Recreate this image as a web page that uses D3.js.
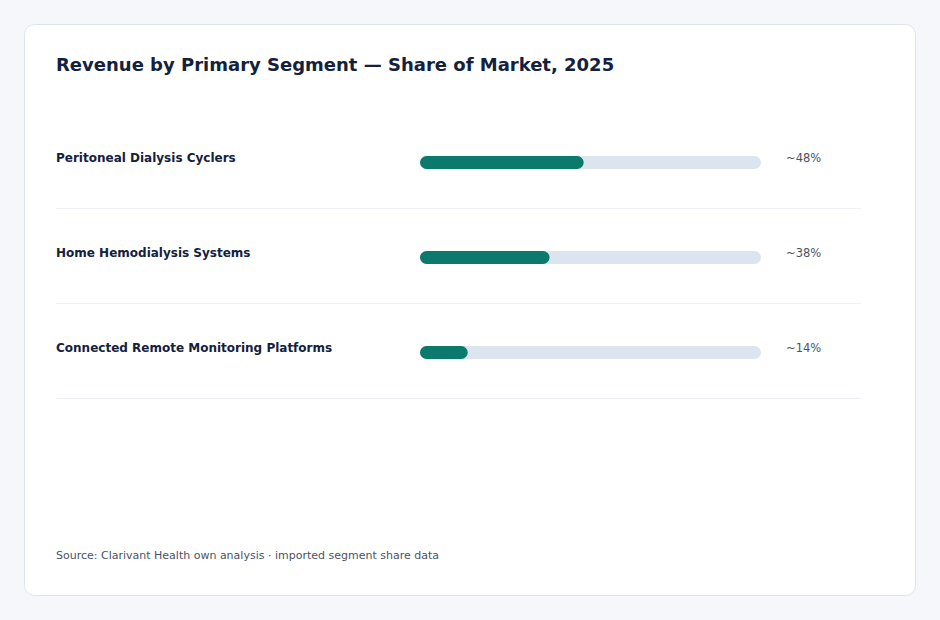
<!DOCTYPE html>
<html>
<head>
<meta charset="utf-8">
<script src="https://d3js.org/d3.v7.min.js"></script>
<style>
  html, body { margin: 0; padding: 0; background: #f5f7fa; }
  body { font-family: 'DejaVu Sans', sans-serif; }
</style>
</head>
<body>
<svg id="chart" width="940" height="620"></svg>
<script>
  const segments = ['Peritoneal Dialysis Cyclers', 'Home Hemodialysis Systems', 'Connected Remote Monitoring Platforms'];
  const shares = [48, 38, 14];
  const shareLabels = ['~48%', '~38%', '~14%'];

  const title = 'Revenue by Primary Segment \u2014 Share of Market, 2025';
  const source = 'Source: Clarivant Health own analysis \u00b7 imported segment share data';

  const svg = d3.select('#chart');

  // card
  svg.append('rect')
    .attr('x', 24.5).attr('y', 24.5)
    .attr('width', 891).attr('height', 571)
    .attr('rx', 10)
    .attr('fill', '#ffffff')
    .attr('stroke', '#dfe4ea');

  svg.append('text')
    .attr('x', 56).attr('y', 71)
    .attr('fill', '#13213d')
    .style('font-size', '18px')
    .style('font-weight', 'bold')
    .text(title);

  const x = d3.scaleLinear().domain([0, 100]).range([420, 761]);
  const y = d3.scaleBand().domain(segments).range([115, 400]);
  const barH = 13;

  const row = svg.selectAll('g.row')
    .data(segments)
    .join('g')
    .attr('class', 'row')
    .attr('transform', d => `translate(0,${y(d)})`);

  // row label
  row.append('text')
    .attr('x', 56).attr('y', 47)
    .attr('fill', '#13213d')
    .style('font-size', '12px')
    .style('font-weight', 'bold')
    .text(d => d);

  // track
  row.append('rect')
    .attr('x', x(0)).attr('y', 41)
    .attr('width', x(100) - x(0)).attr('height', barH)
    .attr('rx', barH / 2)
    .attr('fill', '#dce5ef');

  // fill
  row.append('rect')
    .attr('x', x(0)).attr('y', 41)
    .attr('width', (d, i) => x(shares[i]) - x(0)).attr('height', barH)
    .attr('rx', barH / 2)
    .attr('fill', '#0b7a6d');

  row.append('text')
    .attr('x', 786).attr('y', 47)
    .attr('fill', '#4a5363')
    .style('font-size', '11.5px')
    .text((d, i) => shareLabels[i]);

  // separators
  row.append('line')
    .attr('x1', 56).attr('x2', 861)
    .attr('y1', 93.5).attr('y2', 93.5)
    .attr('stroke', '#eef1f5');

  svg.append('text')
    .attr('x', 56).attr('y', 559)
    .attr('fill', '#4a5363')
    .style('font-size', '11px')
    .text(source);
</script>
</body>
</html>
